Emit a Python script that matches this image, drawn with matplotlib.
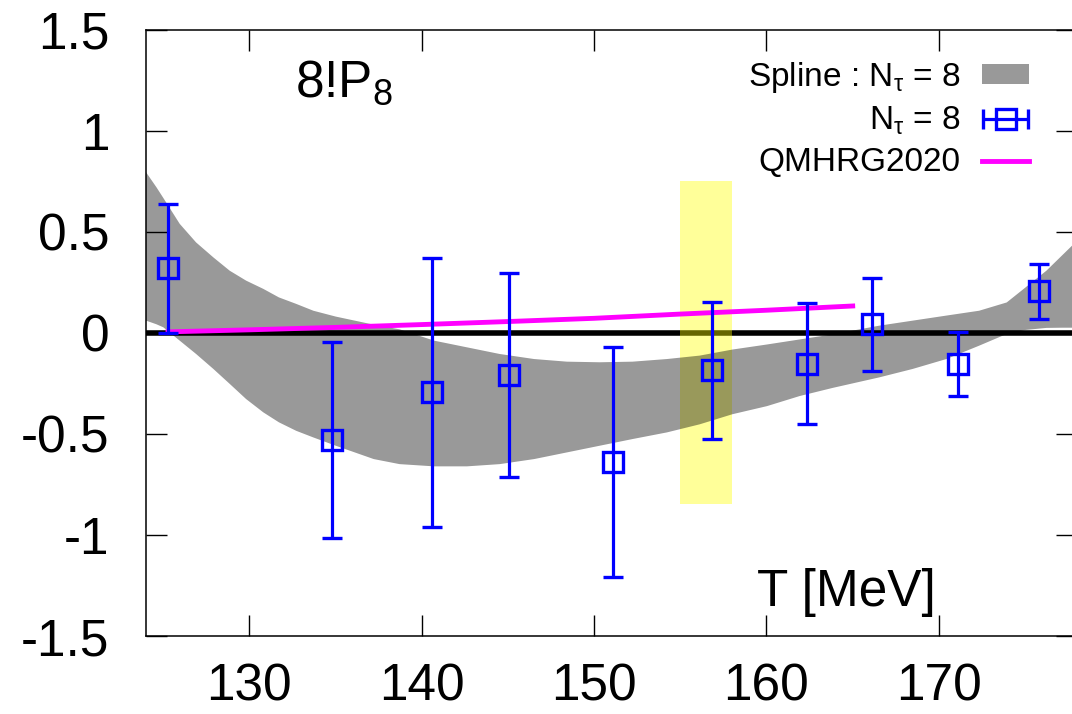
import numpy as np
import matplotlib
matplotlib.use("Agg")
import matplotlib.pyplot as plt
from matplotlib.container import ErrorbarContainer
from matplotlib.legend_handler import HandlerErrorbar
from matplotlib.ticker import FuncFormatter

plt.rcParams['font.family'] = ['Liberation Sans', 'DejaVu Sans']
plt.rcParams['mathtext.fontset'] = 'custom'
plt.rcParams['mathtext.rm'] = 'Liberation Sans'
plt.rcParams['mathtext.it'] = 'Liberation Sans:italic'
plt.rcParams['mathtext.default'] = 'regular'

# lattice points (N_tau = 8)
T_data = [125.3, 134.8, 140.6, 145.1, 151.1, 156.85, 162.35, 166.1, 171.1, 175.8]
y_data = [0.32, -0.528, -0.295, -0.209, -0.64, -0.185, -0.152, 0.042, -0.155, 0.206]
y_err = [0.32, 0.485, 0.664, 0.505, 0.568, 0.34, 0.30, 0.23, 0.158, 0.135]

# spline band
T_band = [124.0, 124.6, 125.0, 125.95, 126.9, 127.9, 128.85, 129.8, 130.8, 131.7,
          132.7, 133.7, 135.0, 137.2, 138.7, 140.7, 142.6, 144.5, 146.5, 148.4,
          150.3, 152.2, 154.2, 156.1, 158.0, 160.0, 161.9, 163.8, 166.5, 168.45,
          170.4, 172.3, 173.9, 175.0, 176.2, 177.1, 178.0]
band_hi = [0.797, 0.723, 0.67, 0.542, 0.45, 0.376, 0.31, 0.261, 0.22, 0.178,
           0.146, 0.112, 0.083, 0.043, 0.02, -0.036, -0.069, -0.102, -0.127, -0.14,
           -0.143, -0.14, -0.127, -0.11, -0.08, -0.055, -0.03, -0.005, 0.038, 0.063,
           0.088, 0.112, 0.153, 0.228, 0.31, 0.385, 0.46]
band_lo = [0.063, 0.045, 0.03, -0.036, -0.102, -0.176, -0.25, -0.325, -0.391, -0.44,
           -0.482, -0.515, -0.556, -0.622, -0.647, -0.658, -0.658, -0.647, -0.622, -0.589,
           -0.556, -0.523, -0.49, -0.45, -0.40, -0.36, -0.31, -0.27, -0.218, -0.176,
           -0.127, -0.061, -0.003, 0.017, 0.027, 0.028, 0.028]

# QMHRG2020
T_hrg = [125.3, 130, 135, 140, 145, 150, 155, 160, 165]
y_hrg = [0.005, 0.015, 0.027, 0.041, 0.056, 0.072, 0.093, 0.112, 0.133]

# T_pc band
T_pc = [155.0, 158.0]
pc_lo, pc_hi = -0.845, 0.751

yticks = [-1.5, -1, -0.5, 0, 0.5, 1, 1.5]
xticks = [130, 140, 150, 160, 170]

fig = plt.figure(figsize=(10.72, 7.14), dpi=100)
ax = fig.add_axes([0.1358, 0.1092, 0.8688, 0.8492])

ax.axhline(0, color='black', lw=4, zorder=1)
ax.fill_between(T_pc, pc_lo, pc_hi, color='#ffff00', alpha=0.4, lw=0, zorder=2)
band = ax.fill_between(T_band, band_lo, band_hi, color='black', alpha=0.4, lw=0,
                       zorder=3)
hrg, = ax.plot(T_hrg, y_hrg, color='#ff00ff', lw=3.5, zorder=4)
ax.errorbar(T_data, y_data, yerr=y_err, fmt='s', ms=15, mfc='none', mec='blue',
            mew=2.4, ecolor='blue', elinewidth=2.3, capsize=7.5, capthick=2.3,
            zorder=5)

# key entry with a horizontal error bar, like the gnuplot key
proxy = ax.errorbar([np.nan], [np.nan], xerr=[1.0], fmt='s', ms=15, mfc='none',
                    mec='blue', mew=2.4, ecolor='blue', elinewidth=2.3,
                    capsize=7.5, capthick=2.3)

handles = [band, proxy, hrg]
labels = [r'Spline : N$_{\tau}$ = 8', r'N$_{\tau}$ = 8', 'QMHRG2020']
leg = ax.legend(handles, labels, loc='upper right', bbox_to_anchor=(0.9485, 0.950),
                frameon=False, fontsize=24, markerfirst=False, handlelength=1.4,
                handletextpad=0.65, handleheight=0.55, labelspacing=0.3,
                borderpad=0, borderaxespad=0,
                handler_map={ErrorbarContainer: HandlerErrorbar(xerr_size=0.68)})

ax.text(0.1604, 0.889, r'8!P$_{8}$', transform=ax.transAxes, fontsize=37,
        ha='left', va='baseline')
ax.text(0.6564, 0.0495, 'T [MeV]', transform=ax.transAxes, fontsize=37,
        ha='left', va='baseline')

ax.set_xlim(124, 178)
ax.set_ylim(-1.5, 1.5)
ax.set_xticks(xticks)
ax.set_yticks(yticks)
ax.yaxis.set_major_formatter(FuncFormatter(lambda v, p: '%g' % v))
ax.tick_params(direction='in', length=15, width=1, top=True, right=True,
               labelsize=37)
ax.tick_params(axis='x', pad=19)
ax.tick_params(axis='y', pad=26)
for s in ax.spines.values():
    s.set_linewidth(1.1)

fig.savefig('out.png', dpi=100)
